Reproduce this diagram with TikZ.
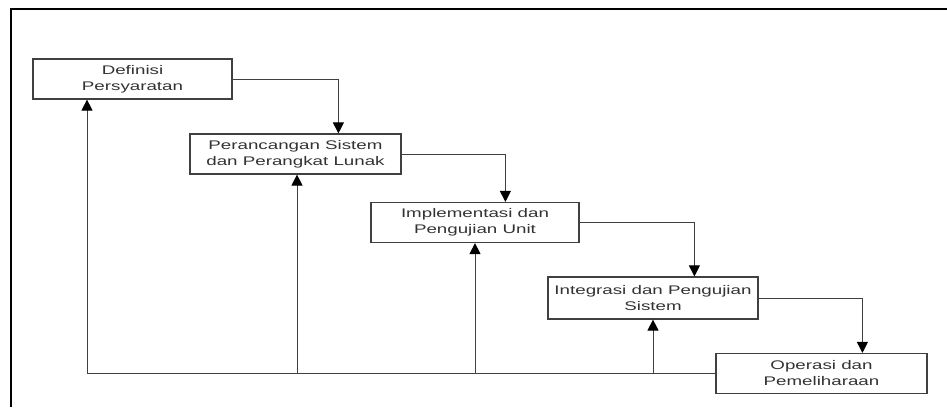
\documentclass[tikz,border=0pt]{standalone}
\usepackage{fontspec}
\setmainfont[FakeStretch=1.5]{Liberation Sans}
\usetikzlibrary{arrows.meta}
\tikzset{
  phase/.style={draw=black!75, line width=1.2pt, fill=white, text=black!80, align=center,
    inner sep=0pt, minimum height=40pt, font=\fontsize{12.5}{16}\selectfont},
  flow/.style={draw=black!75, line width=1pt, -{Triangle[width=11pt,length=11pt,color=black]}},
  back/.style={draw=black!75, line width=1pt},
}
\begin{document}
\begin{tikzpicture}[x=1pt, y=-1pt]
		%%%%% START %%%%%
		\useasboundingbox (0, 0) rectangle (947, 407);
		\draw[line width=2.5pt] (11, 407) -- (11, 9) -- (947, 9);
		
		\node[phase, minimum width=199pt] (def) at (132.5, 79) {Definisi\\Persyaratan};
		\node[phase, minimum width=211pt] (ran) at (295.5, 154) {Perancangan Sistem\\dan Perangkat Lunak};
		\node[phase, minimum width=208pt] (imp) at (475, 222.5) {Implementasi dan\\Pengujian Unit};
		\node[phase, minimum width=210pt, minimum height=42pt] (int) at (653, 298) {Integrasi dan Pengujian\\Sistem};
		\node[phase, minimum width=211pt] (ope) at (821.5, 373.5) {Operasi dan\\Pemeliharaan};
		
		\draw[flow] (def.east) -| ([xshift=149pt]ran.north west);
		\draw[flow] (ran.east) -| ([xshift=135pt]imp.north west);
		\draw[flow] (imp.east) -| ([xshift=147pt]int.north west);
		\draw[flow] (int.east) -| ([xshift=147pt]ope.north west);
		
		\draw[back] (ope.west) -- ([xshift=-45.5pt]def.south |- ope.west);
		\draw[flow] ([xshift=-45.5pt]def.south |- ope.west) -- ([xshift=-45.5pt]def.south);
		\draw[flow] ([xshift=1.5pt]ran.south |- ope.west) -- ([xshift=1.5pt]ran.south);
		\draw[flow] (imp.south |- ope.west) -- (imp.south);
		\draw[flow] (int.south |- ope.west) -- (int.south);
		%%%%% END %%%%%
\end{tikzpicture}
\end{document}
